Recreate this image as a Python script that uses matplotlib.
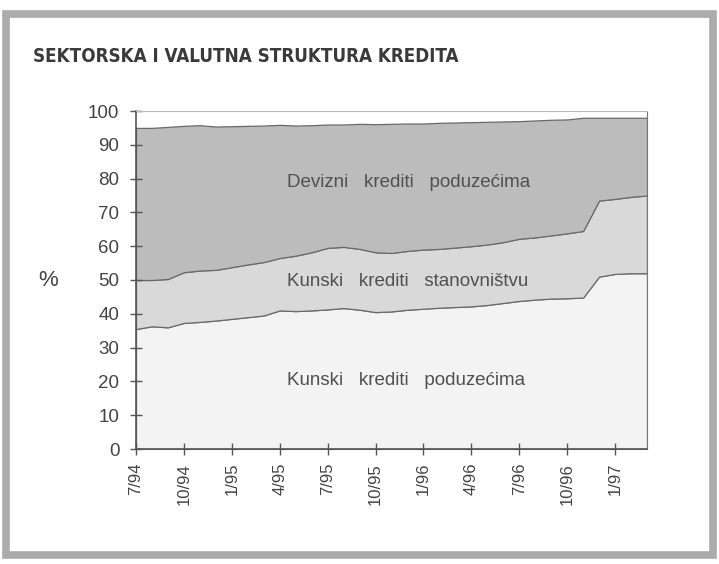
import matplotlib
matplotlib.use("Agg")
import matplotlib.pyplot as plt
from matplotlib.patches import Rectangle
from matplotlib import font_manager
import numpy as np

# Monthly observations, 7/94 .. 3/97 (shares in %)
months = ["7/94", "8/94", "9/94", "10/94", "11/94", "12/94", "1/95", "2/95", "3/95",
          "4/95", "5/95", "6/95", "7/95", "8/95", "9/95", "10/95", "11/95", "12/95",
          "1/96", "2/96", "3/96", "4/96", "5/96", "6/96", "7/96", "8/96", "9/96",
          "10/96", "11/96", "12/96", "1/97", "2/97", "3/97"]

kunski_poduzeca = [35.5, 36.3, 36.0, 37.3, 37.6, 38.0, 38.5, 39.0, 39.5, 41.0, 40.8,
                   41.0, 41.3, 41.7, 41.2, 40.5, 40.7, 41.2, 41.5, 41.8, 42.0, 42.2,
                   42.6, 43.2, 43.8, 44.2, 44.5, 44.6, 44.8, 51.0, 51.8, 52.0, 52.0]
kunski_stanovnistvo = [14.5, 13.7, 14.3, 15.0, 15.2, 15.0, 15.3, 15.6, 15.8, 15.5, 16.4,
                       17.2, 18.2, 18.1, 18.0, 17.7, 17.3, 17.4, 17.5, 17.4, 17.6, 17.8,
                       17.9, 18.0, 18.4, 18.4, 18.7, 19.2, 19.7, 22.5, 22.2, 22.6, 23.0]
devizni_poduzeca = [45.0, 45.0, 45.0, 43.3, 43.0, 42.4, 41.7, 41.0, 40.4, 39.4, 38.5,
                    37.6, 36.5, 36.2, 37.0, 37.9, 38.2, 37.7, 37.3, 37.3, 37.0, 36.7,
                    36.3, 35.7, 34.8, 34.6, 34.2, 33.7, 33.5, 24.5, 24.0, 23.4, 23.0]

tick_labels = ["7/94", "10/94", "1/95", "4/95", "7/95", "10/95", "1/96", "4/96",
               "7/96", "10/96", "1/97"]
area_labels = ["Kunski   krediti   poduzećima", "Kunski   krediti   stanovništvu",
               "Devizni   krediti   poduzećima"]

W, H = 719, 564
fig = plt.figure(figsize=(W / 100, H / 100), dpi=100)
fig.patch.set_facecolor("white")

# outer frame
fig.add_artist(Rectangle((6 / W, 9 / H), 707 / W, 541 / H, transform=fig.transFigure,
                         fill=False, edgecolor="#ababab", linewidth=5.5))

# title: find a condensed face if available
names = {f.name for f in font_manager.fontManager.ttflist}
title_kw = dict(fontweight="bold", color="#3a3a3a", va="center", ha="left")
if "Liberation Sans Narrow" in names:
    title_kw.update(family="Liberation Sans Narrow", fontsize=16)
else:
    title_kw.update(family="DejaVu Sans", fontstretch="condensed", fontsize=13.5)
fig.text(33 / W, 1 - 56 / H, "SEKTORSKA I VALUTNA STRUKTURA KREDITA", **title_kw)

ax = fig.add_axes([136 / W, 1 - 449 / H, (647 - 136) / W, (449 - 111) / H])
x = np.arange(len(months))
colors = ["#f3f3f3", "#d9d9d9", "#bcbcbc"]
ax.stackplot(x, kunski_poduzeca, kunski_stanovnistvo, devizni_poduzeca,
             colors=colors, edgecolor="#6a6a6a", linewidth=0.9)
ax.set_xlim(0, len(months) - 1)
ax.set_ylim(0, 100)
ax.set_facecolor("white")

tick_pos = [months.index(m) for m in tick_labels]
ax.set_xticks(tick_pos)
ax.set_xticklabels(tick_labels, rotation=90, fontsize=12, color="#444444",
                   family="Liberation Sans")
ax.set_yticks(range(0, 101, 10))
ax.set_yticklabels([str(v) for v in range(0, 101, 10)], fontsize=13.5,
                   color="#444444", family="Liberation Sans")
ax.tick_params(axis="both", direction="inout", length=8, width=1, color="#555555")
ax.tick_params(axis="x", pad=6)
ax.tick_params(axis="y", pad=8)
for s in ["left", "bottom"]:
    ax.spines[s].set_color("#555555")
    ax.spines[s].set_linewidth(1.2)
ax.spines["right"].set_color("#777777")
ax.spines["top"].set_color("#bbbbbb")

fig.text(48 / W, 1 - 280 / H, "%", fontsize=16, color="#444444",
         family="Liberation Sans", ha="center", va="center")

lx = 9.45
for yv, lab in zip([20.2, 49.6, 78.7], area_labels):
    ax.text(lx, yv, lab, fontsize=13.5, color="#505050", ha="left",
            va="center", family="Liberation Sans")

fig.savefig("out.png", dpi=100)
